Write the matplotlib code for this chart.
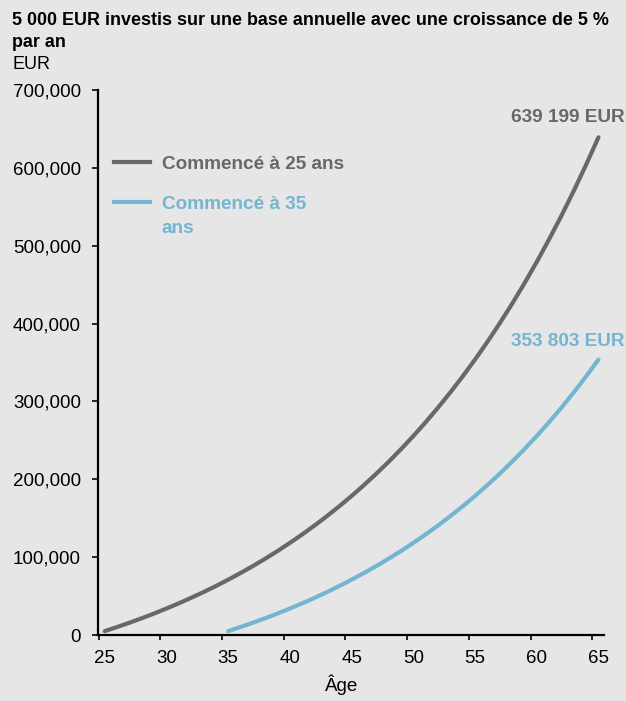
import matplotlib
matplotlib.use("Agg")
import matplotlib.pyplot as plt
from matplotlib.lines import Line2D
from matplotlib.ticker import FuncFormatter, FixedLocator, NullFormatter

plt.rcParams["font.family"] = ["Liberation Sans", "DejaVu Sans"]

# Portfolio value by age, 5 000 EUR invested each year at 5 % growth
ages_25 = list(range(25, 66))
values_25 = [
    5000, 10250, 15763, 21551, 27628, 34010, 40710, 47746, 55133, 62889,
    71034, 79586, 88565, 97993, 107893, 118287, 129202, 140662, 152695, 165330,
    178596, 192526, 207152, 222510, 238635, 255567, 273346, 292013, 311614, 332194,
    353803, 376494, 400319, 425335, 451601, 479182, 508141, 538548, 570475, 603999,
    639199,
]
ages_35 = list(range(35, 66))
values_35 = [
    5000, 10250, 15763, 21551, 27628, 34010, 40710, 47746, 55133, 62889,
    71034, 79586, 88565, 97993, 107893, 118287, 129202, 140662, 152695, 165330,
    178596, 192526, 207152, 222510, 238635, 255567, 273346, 292013, 311614, 332194,
    353803,
]
series_labels = ["Commencé à 25 ans", "Commencé à 35\nans"]
x_ticks = [25, 30, 35, 40, 45, 50, 55, 60, 65]
y_ticks = [0, 100000, 200000, 300000, 400000, 500000, 600000, 700000]

BG = "#e6e6e6"
GREY = "#686868"
BLUE = "#74b5d1"

W, H = 626, 701
def fx(px):
    return px / W
def fy(py):
    return 1 - py / H

fig = plt.figure(figsize=(W / 100, H / 100), dpi=100, facecolor=BG)
ax = fig.add_axes([fx(98), fy(635), fx(604) - fx(98), fy(90) - fy(635)], facecolor=BG)

# category-style age axis: each year is a slot, points sit mid-slot,
# tick marks on the slot edges and labels under the slot centres
shift = 0.5
ax.plot([a + shift for a in ages_25], values_25, color=GREY, lw=3,
        solid_capstyle="round", solid_joinstyle="round", clip_on=False)
ax.plot([a + shift for a in ages_35], values_35, color=BLUE, lw=3,
        solid_capstyle="round", solid_joinstyle="round", clip_on=False)

ax.set_xlim(24.95, 65.95)
ax.set_ylim(0, 700000)
ax.xaxis.set_major_locator(FixedLocator(x_ticks))
ax.xaxis.set_major_formatter(NullFormatter())
ax.xaxis.set_minor_locator(FixedLocator([t + shift for t in x_ticks]))
ax.xaxis.set_minor_formatter(FuncFormatter(lambda v, p: f"{int(round(v - shift))}"))
ax.set_yticks(y_ticks)
ax.yaxis.set_major_formatter(FuncFormatter(lambda v, p: f"{int(v):,}"))
ax.tick_params(axis="y", direction="out", length=4.3, width=1.2, labelsize=13.5,
               colors="black", pad=8)
ax.tick_params(axis="x", which="major", direction="out", length=3.6, width=1.2)
ax.tick_params(axis="x", which="minor", length=0, labelsize=13.5, pad=10.5)
for s in ("top", "right"):
    ax.spines[s].set_visible(False)
for s in ("left", "bottom"):
    ax.spines[s].set_linewidth(1.6)

fig.text(fx(342), fy(691), "Âge", fontsize=13.5, ha="center", va="baseline")

# end-of-line value labels
def eur(v):
    return f"{v:,}".replace(",", " ") + " EUR"

ax.annotate(eur(values_25[-1]), (ages_25[-1] + shift, values_25[-1]),
            xytext=(-87, 15), textcoords="offset pixels", ha="left", va="baseline",
            fontsize=13.7, fontweight="bold", color=GREY, annotation_clip=False)
ax.annotate(eur(values_35[-1]), (ages_35[-1] + shift, values_35[-1]),
            xytext=(-87, 14), textcoords="offset pixels", ha="left", va="baseline",
            fontsize=13.7, fontweight="bold", color=BLUE, annotation_clip=False)

# legend drawn by hand so the key sits next to the first text line
for (y, col, lab) in [(162, GREY, series_labels[0]), (202, BLUE, series_labels[1])]:
    fig.add_artist(Line2D([fx(114), fx(150)], [fy(y), fy(y)], color=col, lw=3))
    first, *rest = lab.split("\n")
    fig.text(fx(162), fy(y + 7), first, color=col, fontsize=13.7, fontweight="bold",
             ha="left", va="baseline")
    for i, line in enumerate(rest, start=1):
        fig.text(fx(162), fy(y + 7 + 24 * i), line, color=col, fontsize=13.7,
                 fontweight="bold", ha="left", va="baseline")

fig.text(fx(12), fy(25), "5 000 EUR investis sur une base annuelle avec une croissance de 5 %",
         fontsize=12.9, fontweight="bold", ha="left", va="baseline")
fig.text(fx(12), fy(47), "par an", fontsize=12.9, fontweight="bold", ha="left", va="baseline")
fig.text(fx(12), fy(69), "EUR", fontsize=13, ha="left", va="baseline")

fig.savefig("out.png", dpi=100, facecolor=BG)
